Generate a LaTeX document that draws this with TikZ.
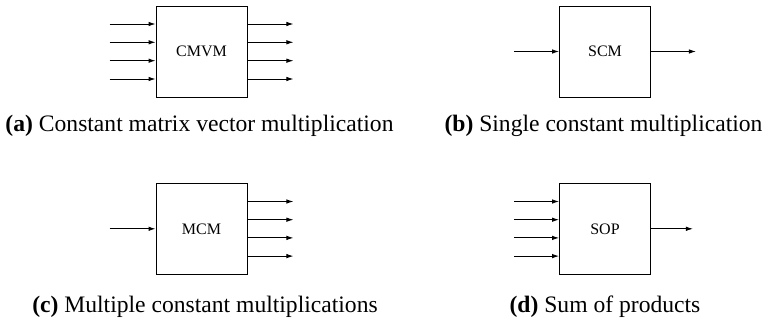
\documentclass[tikz,border=0pt]{standalone}
\usepackage{fontspec}
\setmainfont{Liberation Serif}
\usetikzlibrary{arrows.meta}
\begin{document}
\begin{tikzpicture}[x=1pt,y=-1pt,
  block/.style={draw, line width=0.9pt, minimum width=91pt, minimum height=91pt,
    inner sep=0pt, font=\fontsize{16}{19}\selectfont},
  sig/.style={line width=0.9pt, -{Latex[length=7pt,width=4.5pt]}},
  caption/.style={font=\fontsize{23.6}{28}\selectfont, anchor=base, inner sep=0pt}]
\useasboundingbox (0,0) rectangle (767,320);

% (a) constant matrix vector multiplication
\node[block] (cmvm) at (201.5,51.5) {CMVM};
\foreach \k/\dy in {1/-27.5,2/-9.2,3/9.2,4/27.5}{
  \coordinate (ain\k) at ([xshift=-46pt,yshift=-\dy pt]cmvm.west);
  \coordinate (aout\k) at ([xshift=46pt,yshift=-\dy pt]cmvm.east);
  \draw[sig] (ain\k) -- (ain\k -| cmvm.west);
  \draw[sig] (aout\k -| cmvm.east) -- (aout\k);
}
\node[caption] (capa) at (199.5,132) {\textbf{(a)} Constant matrix vector multiplication};

% (b) single constant multiplication
\node[block] (scm) at (605,51.5) {SCM};
\coordinate (bin) at ([xshift=-45pt]scm.west);
\coordinate (bout) at ([xshift=45pt]scm.east);
\draw[sig] (bin) -- (scm.west);
\draw[sig] (scm.east) -- (bout);
\node[caption] (capb) at (603.5,132) {\textbf{(b)} Single constant multiplication};

% (c) multiple constant multiplications
\node[block] (mcm) at (201.5,228.8) {MCM};
\coordinate (cin) at ([xshift=-46pt]mcm.west);
\draw[sig] (cin) -- (mcm.west);
\foreach \k/\dy in {1/-27.3,2/-9.1,3/9.1,4/27.3}{
  \coordinate (cout\k) at ([xshift=46pt,yshift=-\dy pt]mcm.east);
  \draw[sig] (cout\k -| mcm.east) -- (cout\k);
}
\node[caption] (capc) at (205,312) {\textbf{(c)} Multiple constant multiplications};

% (d) sum of products
\node[block] (sop) at (605,228.8) {SOP};
\foreach \k/\dy in {1/-27.3,2/-9.1,3/9.1,4/27.3}{
  \coordinate (din\k) at ([xshift=-45pt,yshift=-\dy pt]sop.west);
  \draw[sig] (din\k) -- (din\k -| sop.west);
}
\coordinate (dout) at ([xshift=42pt]sop.east);
\draw[sig] (sop.east) -- (dout);
\node[caption] (capd) at (605,312) {\textbf{(d)} Sum of products};
\end{tikzpicture}
\end{document}
